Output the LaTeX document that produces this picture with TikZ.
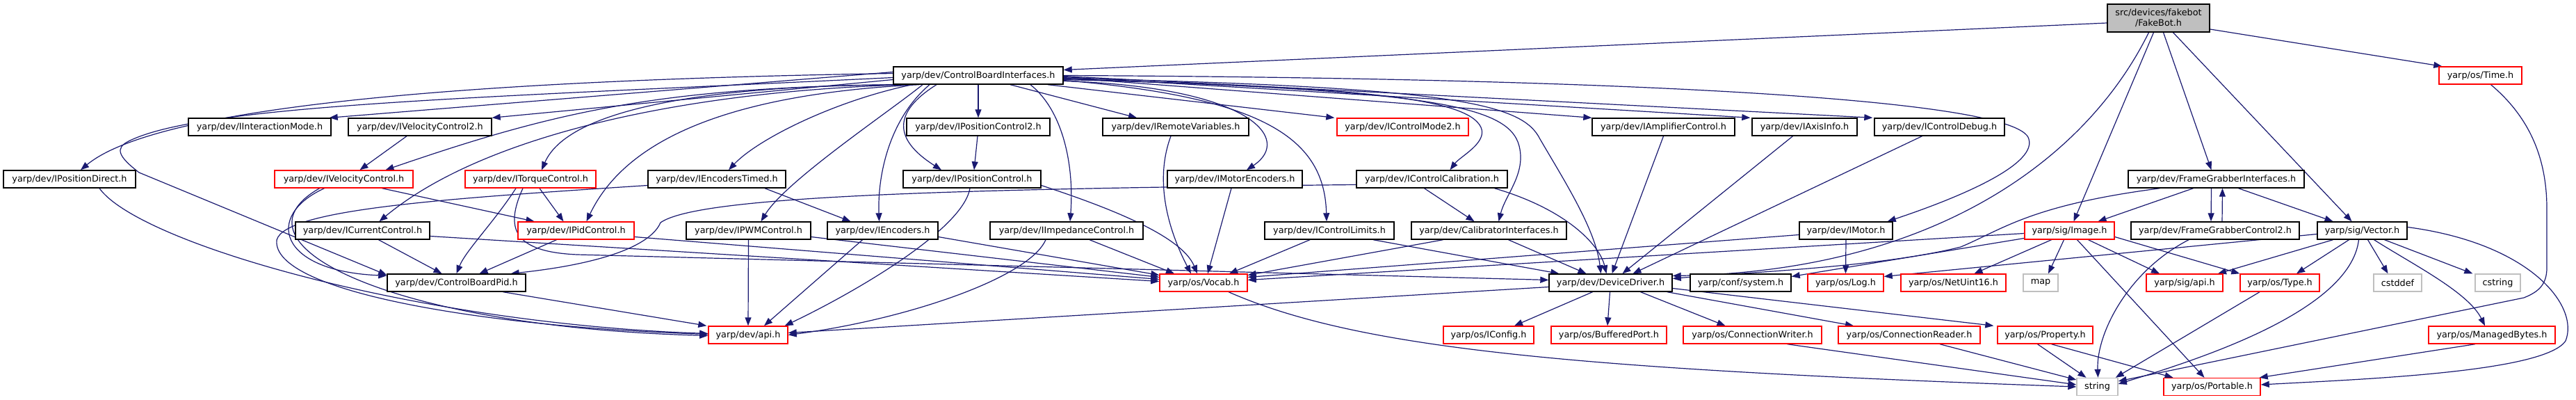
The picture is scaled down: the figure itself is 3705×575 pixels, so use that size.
\documentclass[tikz,border=0pt]{standalone}
\usepackage{fontspec}
\setmainfont{DejaVu Sans}
\usetikzlibrary{arrows.meta}
\pgfdeclarelayer{bg}
\pgfsetlayers{bg,main}
\definecolor{edgec}{HTML}{191970}
\definecolor{grayb}{HTML}{BFBFBF}
\tikzset{
 nd/.style={draw=black, line width=1.4pt, fill=white, minimum height=25pt, inner sep=0pt, font=\fontsize{12.8}{15}\selectfont},
 rd/.style={nd, draw=red},
 gr/.style={nd, draw=grayb},
 e/.style={draw=edgec, line width=1.2pt, -{Triangle[length=12pt,width=9pt]}},
}
\begin{document}
\begin{tikzpicture}[x=1pt,y=-1pt]
\useasboundingbox (0,0) rectangle (3705,575);
% row 0/1
\node[nd, fill=grayb, minimum width=147pt, minimum height=40pt, align=center] (fb) at (3104.5,26) {src/devices/fakebot\\/FakeBot.h};
\node[nd, minimum width=244pt] (cbi) at (1407,108.5) {yarp/dev/ControlBoardInterfaces.h};
\node[rd, minimum width=119pt] (time) at (3567.5,108.5) {yarp/os/Time.h};
% row 2
\node[nd, minimum width=205pt] (iim) at (373.5,182.5) {yarp/dev/IInteractionMode.h};
\node[nd, minimum width=206pt] (ivc2) at (604,182.5) {yarp/dev/IVelocityControl2.h};
\node[nd, minimum width=206pt] (ipc2) at (1407,182.5) {yarp/dev/IPositionControl2.h};
\node[nd, minimum width=210pt] (irv) at (1691,182.5) {yarp/dev/IRemoteVariables.h};
\node[rd, minimum width=189pt] (icm2) at (2017.5,182.5) {yarp/dev/IControlMode2.h};
\node[nd, minimum width=205pt] (iamp) at (2392.5,182.5) {yarp/dev/IAmplifierControl.h};
\node[nd, minimum width=151pt] (iax) at (2595.5,182.5) {yarp/dev/IAxisInfo.h};
\node[nd, minimum width=187pt] (icd) at (2789.5,182.5) {yarp/dev/IControlDebug.h};
% row 3
\node[nd, minimum width=190pt] (ipd) at (100,257.5) {yarp/dev/IPositionDirect.h};
\node[rd, minimum width=199pt] (ivc) at (494.5,257.5) {yarp/dev/IVelocityControl.h};
\node[rd, minimum width=188pt] (itc) at (763,257.5) {yarp/dev/ITorqueControl.h};
\node[nd, minimum width=198pt] (iet) at (1031,257.5) {yarp/dev/IEncodersTimed.h};
\node[nd, minimum width=198pt] (ipc) at (1398,257.5) {yarp/dev/IPositionControl.h};
\node[nd, minimum width=194pt] (ime) at (1776,257.5) {yarp/dev/IMotorEncoders.h};
\node[nd, minimum width=217pt] (icc) at (2059.5,257.5) {yarp/dev/IControlCalibration.h};
\node[nd, minimum width=253pt] (fgi) at (3187.5,257.5) {yarp/dev/FrameGrabberInterfaces.h};
% row 4
\node[nd, minimum width=193pt] (icur) at (521.5,331.5) {yarp/dev/ICurrentControl.h};
\node[rd, minimum width=167pt] (ipid) at (828.5,331.5) {yarp/dev/IPidControl.h};
\node[nd, minimum width=179pt] (ipwm) at (1076.5,331.5) {yarp/dev/IPWMControl.h};
\node[nd, minimum width=159pt] (ienc) at (1269.5,331.5) {yarp/dev/IEncoders.h};
\node[nd, minimum width=220pt] (iimp) at (1534,331.5) {yarp/dev/IImpedanceControl.h};
\node[nd, minimum width=186pt] (icl) at (1912,331.5) {yarp/dev/IControlLimits.h};
\node[nd, minimum width=223pt] (cal) at (2141.5,331.5) {yarp/dev/CalibratorInterfaces.h};
\node[nd, minimum width=134pt] (imot) at (2655,331.5) {yarp/dev/IMotor.h};
\node[rd, minimum width=129pt] (img) at (2976.5,331.5) {yarp/sig/Image.h};
\node[nd, minimum width=242pt] (fgc2) at (3186,331.5) {yarp/dev/FrameGrabberControl2.h};
\node[nd, minimum width=129pt] (vec) at (3397.5,331.5) {yarp/sig/Vector.h};
% row 5
\node[nd, minimum width=199pt] (cbp) at (656.5,406.5) {yarp/dev/ControlBoardPid.h};
\node[rd, minimum width=126pt] (voc) at (1731,406.5) {yarp/os/Vocab.h};
\node[nd, minimum width=177pt] (dd) at (2316.5,406.5) {yarp/dev/DeviceDriver.h};
\node[nd, minimum width=145pt] (sys) at (2503.5,406.5) {yarp/conf/system.h};
\node[rd, minimum width=109pt] (log) at (2654.5,406.5) {yarp/os/Log.h};
\node[rd, minimum width=151pt] (nu16) at (2809.5,406.5) {yarp/os/NetUint16.h};
\node[gr, minimum width=50pt] (map) at (2935,406.5) {map};
\node[rd, minimum width=110pt] (sapi) at (3142,406.5) {yarp/sig/api.h};
\node[rd, minimum width=114pt] (type) at (3279,406.5) {yarp/os/Type.h};
\node[gr, minimum width=69pt] (cstddef) at (3448.5,406.5) {cstddef};
\node[gr, minimum width=65pt] (cstring) at (3592.5,406.5) {cstring};
% row 6
\node[rd, minimum width=114pt] (dapi) at (1076,481.5) {yarp/dev/api.h};
\node[rd, minimum width=130pt] (icfg) at (2141,481.5) {yarp/os/IConfig.h};
\node[rd, minimum width=166pt] (bp) at (2314,481.5) {yarp/os/BufferedPort.h};
\node[rd, minimum width=199pt] (cw) at (2520.5,481.5) {yarp/os/ConnectionWriter.h};
\node[rd, minimum width=204pt] (cr) at (2746,481.5) {yarp/os/ConnectionReader.h};
\node[rd, minimum width=137pt] (prop) at (2941.5,481.5) {yarp/os/Property.h};
\node[rd, minimum width=182pt] (mb) at (3584,481.5) {yarp/os/ManagedBytes.h};
% row 7
\node[gr, minimum width=59pt] (str) at (3016.5,556) {string};
\node[rd, minimum width=139pt] (port) at (3181.5,556) {yarp/os/Portable.h};

\begin{pgfonlayer}{bg}
% FakeBot
\draw[e] ([yshift=-7pt]fb.west) -- ([yshift=8pt]cbi.east);
\draw[e] ([yshift=-16pt]fb.east) -- ([xshift=5pt]time.north west);
\draw[e] ([xshift=7pt]fb.south) -- ([xshift=-7pt]fgi.north);
\draw[e] ([xshift=-7pt]fb.south) -- ([xshift=6pt]img.north);
\draw[e] ([xshift=-14pt]fb.south) .. controls (3000,230) and (2780,390) .. ([yshift=10pt]dd.east);
\draw[e] ([xshift=21pt]fb.south) -- ([xshift=-15pt]vec.north);
% Time
\draw[e] ([xshift=15pt]time.south) .. controls (3640,170) and (3663,230) .. (3663,300) -- (3663,385) .. controls (3663,410) and (3650,420) .. (3630,428) -- ([yshift=8pt]str.east);
% ControlBoardInterfaces
\draw[e] ([yshift=3pt]cbi.west) .. controls (700,115) and (230,150) .. ([xshift=16pt]ipd.north);
\draw[e] ([yshift=-3pt]cbi.west) .. controls (700,140) and (290,150) .. (185,203) .. controls (165,213) and (170,225) .. (200,248) -- ([yshift=-2pt]cbp.north west);
\draw[e] ([yshift=5pt]cbi.west) -- ([xshift=-3pt]iim.north east);
\draw[e] ([yshift=-6pt]cbi.west) -- (ivc2.north east);
\draw[e] ([xshift=-110pt]cbi.south) .. controls (950,125) and (800,160) .. ([xshift=60pt]ivc.north);
\draw[e] ([xshift=-105pt]cbi.south) .. controls (1050,122) and (820,150) .. ([xshift=16pt]itc.north);
\draw[e] ([xshift=-95pt]cbi.south) .. controls (1200,145) and (1090,200) .. ([xshift=17pt]iet.north);
\draw[e] ([xshift=-100pt]cbi.south) .. controls (1000,130) and (700,190) .. ([xshift=24pt]icur.north);
\draw[e] ([xshift=-85pt]cbi.south) .. controls (1050,135) and (900,200) .. ([xshift=15pt]ipid.north);
\draw[e] ([xshift=-80pt]cbi.south) .. controls (1280,160) and (1130,260) .. ([xshift=18pt]ipwm.north);
\draw[e] ([xshift=-70pt]cbi.south) .. controls (1280,170) and (1262,250) .. ([xshift=-5pt]ienc.north);
\draw[e] ([xshift=-60pt]cbi.south) .. controls (1270,170) and (1300,210) .. ([xshift=-44pt]ipc.north);
\draw[e] (cbi.south) -- (ipc2.north);
\draw[e] ([xshift=-1pt]ipc2.south) -- ([xshift=3pt]ipc.north);
\draw[e] ([xshift=46pt]cbi.south) -- ([xshift=-56pt]irv.north);
\draw[e] ([xshift=75pt]cbi.south) .. controls (1530,160) and (1545,240) .. ([xshift=5pt]iimp.north);
\draw[e] ([xshift=100pt]cbi.south) -- ([xshift=-3pt]icm2.north west);
\draw[e] ([yshift=-8pt]cbi.east) .. controls (1800,125) and (1860,200) .. ([xshift=17pt]ime.north);
\draw[e] ([yshift=-7pt]cbi.east) .. controls (1820,140) and (1905,200) .. ([xshift=-4pt]icl.north);
\draw[e] ([yshift=-6pt]cbi.east) .. controls (1950,125) and (2110,140) .. (2130,183) .. controls (2140,205) and (2100,225) .. ([xshift=26pt]icc.north);
\draw[e] ([yshift=-5pt]cbi.east) .. controls (2050,130) and (2170,150) .. (2185,210) .. controls (2195,250) and (2165,280) .. ([xshift=14pt]cal.north);
\draw[e] ([yshift=-4pt]cbi.east) .. controls (2100,125) and (2190,150) .. (2215,200) .. controls (2250,260) and (2295,330) .. ([xshift=-14pt]dd.north);
\draw[e] ([yshift=-3pt]cbi.east) -- (iamp.north west);
\draw[e] ([yshift=-2pt]cbi.east) -- ([xshift=-2pt]iax.north west);
\draw[e] ([yshift=-1pt]cbi.east) -- ([xshift=-2pt]icd.north west);
\draw[e] (cbi.east) .. controls (2300,112) and (2905,140) .. (2918,200) .. controls (2930,240) and (2800,290) .. ([xshift=-8pt]imot.north east);
% row 3 sources
\draw[e] ([xshift=43pt]ipd.south) .. controls (200,350) and (600,465) .. ([yshift=2pt]dapi.west);
\draw[e] ([xshift=-19pt]ivc2.south) -- ([xshift=23pt]ivc.north);
\draw[e] ([xshift=-35pt]ivc.south) .. controls (320,350) and (560,470) .. ([yshift=-1pt]dapi.west);
\draw[e] ([xshift=-28pt]ivc.south) .. controls (380,310) and (400,390) .. ([yshift=-3pt]cbp.north west);
\draw[e] ([xshift=55pt]ivc.south) -- ([xshift=-60pt]ipid.north);
\draw[e] ([xshift=13pt]itc.south) -- ([xshift=-18pt]ipid.north);
\draw[e] ([xshift=-21pt]itc.south) .. controls (710,320) and (670,360) .. (cbp.north);
\draw[e] ([xshift=-11pt]itc.south) .. controls (725,330) and (740,362) .. (830,366) -- ([yshift=4pt]dd.west);
\draw[e] ([xshift=69pt]iet.south) -- ([xshift=-46pt]ienc.north);
\draw[e] ([yshift=-9pt]iet.west) .. controls (650,285) and (410,300) .. (398,345) .. controls (390,420) and (700,470) .. ([yshift=1pt]dapi.west);
\draw[e] ([xshift=-3pt]ipc.south) .. controls (1385,330) and (1230,420) .. ([xshift=-5pt]dapi.north east);
\draw[e] ([yshift=-9pt]ipc.east) .. controls (1600,300) and (1700,340) .. ([xshift=-9pt]voc.north);
\draw[e] ([xshift=-5pt]ime.south) -- ([xshift=6pt]voc.north);
\draw[e] ([xshift=-11pt]icc.south) -- ([xshift=-21pt]cal.north);
\draw[e] ([xshift=90pt]icc.south) .. controls (2250,300) and (2300,350) .. ([xshift=-6pt]dd.north);
\draw[e] ([yshift=-8pt]icc.west) .. controls (1300,272) and (1000,285) .. (950,320) .. controls (935,355) and (860,380) .. ([xshift=-22pt]cbp.north east);
\draw[e] ([xshift=-33pt]fgi.south) -- ([xshift=41pt]img.north);
\draw[e] ([xshift=-7pt]fgi.south) -- ([xshift=-6pt]fgc2.north);
\draw[e] ([xshift=10pt]fgc2.north) -- ([xshift=9pt]fgi.south);
\draw[e] ([xshift=32pt]fgi.south) -- ([xshift=-42pt]vec.north);
\draw[e] ([xshift=-81pt]fgi.south) .. controls (2920,295) and (2880,330) .. (2820,355) .. controls (2700,385) and (2500,392) .. ([yshift=6pt]dd.east);
% row 4 sources
\draw[e] (imot.south) -- (log.north);
\draw[e] ([yshift=-6pt]imot.west) -- ([yshift=8pt]voc.east);
\draw[e] ([yshift=-4pt]img.west) -- ([yshift=4pt]voc.east);
\draw[e] ([yshift=-11pt]img.west) -- ([yshift=9pt]sys.east);
\draw[e] ([xshift=-26pt]img.south) -- ([xshift=30pt]nu16.north);
\draw[e] ([xshift=-8pt]img.south) -- ([xshift=11pt]map.north);
\draw[e] ([xshift=27pt]img.south) -- ([xshift=-36pt]sapi.north);
\draw[e] ([yshift=-9pt]img.east) -- (type.north west);
\draw[e] ([xshift=11pt]img.south) -- ([xshift=-11pt]port.north);
\draw[e] ([xshift=-38pt]fgc2.south) .. controls (3060,390) and (3015,480) .. ([xshift=1pt]str.north);
\draw[e] ([xshift=-42pt]vec.south) -- ([xshift=48pt]sapi.north);
\draw[e] ([xshift=-19pt]vec.south) -- ([xshift=24pt]type.north);
\draw[e] ([xshift=-5pt]vec.south) .. controls (3380,450) and (3150,520) .. ([yshift=4pt]str.east);
\draw[e] ([xshift=8pt]vec.south) -- ([xshift=-14pt]cstddef.north);
\draw[e] ([xshift=32pt]vec.south) -- ([xshift=-3pt]cstring.north west);
\draw[e] ([xshift=17pt]vec.south) .. controls (3470,380) and (3550,420) .. ([xshift=-10pt]mb.north);
\draw[e] ([yshift=5pt]vec.east) .. controls (3640,350) and (3710,440) .. (3690,490) .. controls (3660,535) and (3400,545) .. ([yshift=3pt]port.east);
\draw[e] ([yshift=-5pt]vec.west) -- ([yshift=9pt]log.east);
\draw[e] ([xshift=23pt]icur.south) -- ([xshift=-21pt]cbp.north);
\draw[e] ([yshift=-8pt]icur.east) -- ([yshift=2pt]voc.west);
\draw[e] ([xshift=-28pt]ipid.south) -- ([xshift=33pt]cbp.north);
\draw[e] ([yshift=-9pt]ipid.east) -- ([yshift=5pt]voc.west);
\draw[e] (ipwm.south) -- (dapi.north);
\draw[e] ([yshift=-9pt]ipwm.east) -- ([yshift=8pt]voc.west);
\draw[e] ([xshift=-29pt]ienc.south) -- ([xshift=23pt]dapi.north);
\draw[e] ([yshift=-9pt]ienc.east) -- ([yshift=11pt]voc.west);
\draw[e] ([xshift=-30pt]iimp.south) .. controls (1480,400) and (1300,460) .. (dapi.east);
\draw[e] ([xshift=33pt]iimp.south) -- ([xshift=-42pt]voc.north);
\draw[e] ([xshift=-7pt]irv.south) .. controls (1660,260) and (1680,330) .. ([xshift=-18pt]voc.north);
\draw[e] ([xshift=-28pt]icl.south) -- ([xshift=37pt]voc.north);
\draw[e] ([xshift=63pt]icl.south) -- ([xshift=15pt]dd.north west);
\draw[e] ([xshift=-66pt]cal.south) -- ([yshift=11pt]voc.east);
\draw[e] ([xshift=28pt]cal.south) -- ([xshift=-35pt]dd.north);
\draw[e] (iamp.south) -- ([xshift=2pt]dd.north);
\draw[e] ([xshift=-17pt]iax.south) -- ([xshift=17pt]dd.north);
\draw[e] ([xshift=-25pt]icd.south) -- ([xshift=32pt]dd.north);
% row 5/6 sources
\draw[e] ([xshift=67pt]cbp.south) -- ([xshift=-2pt]dapi.north west);
\draw[e] ([xshift=36pt]voc.south) .. controls (1950,500) and (2250,530) .. (str.west);
\draw[e] ([yshift=-6pt]dd.west) -- ([yshift=3pt]dapi.east);
\draw[e] ([xshift=-26pt]dd.south) -- ([xshift=37pt]icfg.north);
\draw[e] ([xshift=-1pt]dd.south) -- ([xshift=-2pt]bp.north);
\draw[e] ([xshift=43pt]dd.south) -- ([xshift=-39pt]cw.north);
\draw[e] ([xshift=-8pt]dd.south east) -- ([xshift=-80pt]cr.north);
\draw[e] ([yshift=-8pt]dd.east) -- ([xshift=-5pt]prop.north west);
\draw[e] ([xshift=-29pt]type.south) -- ([xshift=-4pt]str.north east);
\draw[e] ([xshift=-11pt]prop.south) -- ([xshift=-16pt]str.north);
\draw[e] ([xshift=9pt]prop.south) -- ([xshift=-56pt]port.north);
\draw[e] ([xshift=44pt]cr.south) -- ([yshift=10pt]str.west);
\draw[e] ([xshift=50pt]cw.south) -- ([yshift=3pt]str.west);
\draw[e] ([xshift=-24pt]mb.south) -- ([xshift=-2pt]port.north east);
\end{pgfonlayer}
\end{tikzpicture}
\end{document}
